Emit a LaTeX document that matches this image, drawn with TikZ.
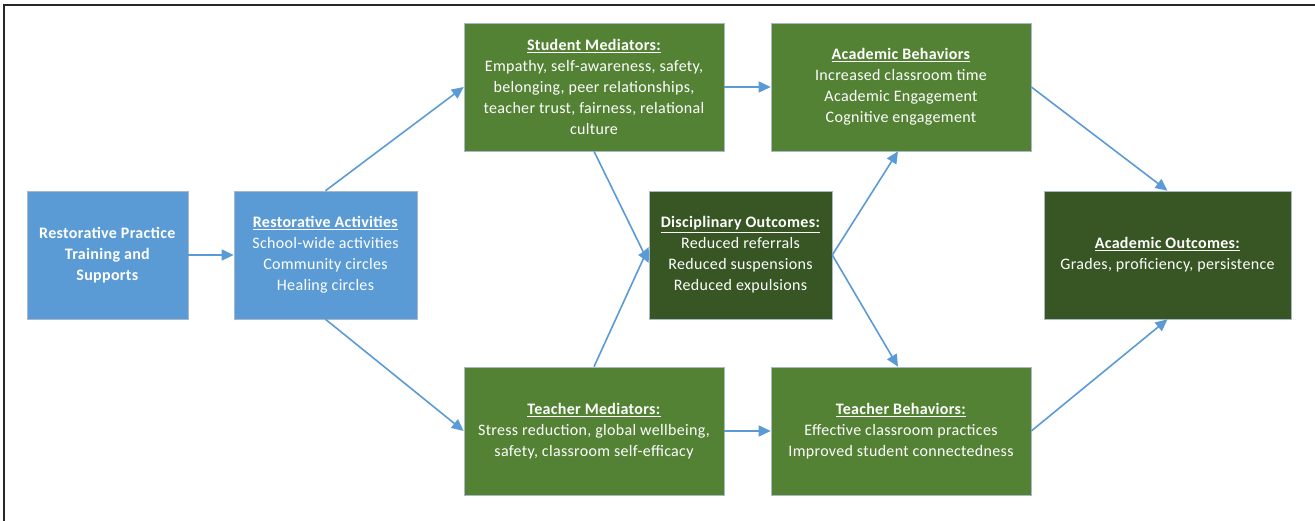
\documentclass[tikz,border=0pt]{standalone}
\usepackage{fontspec}
\setmainfont{Carlito}[LetterSpace=2]
\usetikzlibrary{arrows.meta}
\definecolor{rpblue}{HTML}{5B9BD5}
\definecolor{rpgreen}{HTML}{548235}
\definecolor{rpdark}{HTML}{375623}
\definecolor{rpedge}{HTML}{A9B8C6}

\begin{document}
\begin{tikzpicture}[x=1pt,y=-1pt,
	box/.style={draw=rpedge, line width=0.6pt, text=white, align=center, inner sep=0pt,
		font=\fontsize{16}{21}\selectfont},
	link/.style={draw=rpblue, line width=1.6pt, -{Triangle[length=12pt,width=11pt]}}]

	\useasboundingbox (0,0) rectangle (1315,521);

	% frame
	\draw[line width=2pt, black!85] (4,521) -- (4,5) -- (1315,5);

	% draw activity boxes
	\node[box, fill=rpblue, minimum width=161pt, minimum height=128pt] (train) at (107.5,255)
		{\textbf{Restorative Practice}\\\textbf{Training and}\\\textbf{Supports}};
	\node[box, fill=rpblue, minimum width=183pt, minimum height=128pt] (act) at (325.5,255)
		{\underline{\textbf{Restorative Activities}}\\School-wide activities\\Community circles\\Healing circles};

	% draw mediators
	\node[box, fill=rpgreen, minimum width=260pt, minimum height=128pt] (stud) at (594,87)
		{\underline{\textbf{Student Mediators:}}\\Empathy, self-awareness, safety,\\belonging, peer relationships,\\teacher trust, fairness, relational\\culture};
	\node[box, fill=rpgreen, minimum width=260pt, minimum height=128pt] (teach) at (594,431)
		{\underline{\textbf{Teacher Mediators:}}\\Stress reduction, global wellbeing,\\safety, classroom self-efficacy};

	% draw outcomes and behaviors
	\node[box, fill=rpdark, minimum width=183pt, minimum height=128pt] (disc) at (740.5,255)
		{\underline{\textbf{Disciplinary Outcomes:}}\\Reduced referrals\\Reduced suspensions\\Reduced expulsions};
	\node[box, fill=rpgreen, minimum width=260pt, minimum height=128pt] (acbeh) at (901,87)
		{\underline{\textbf{Academic Behaviors}}\\Increased classroom time\\Academic Engagement\\Cognitive engagement};
	\node[box, fill=rpgreen, minimum width=260pt, minimum height=128pt] (tbeh) at (901,431)
		{\underline{\textbf{Teacher Behaviors:}}\\Effective classroom practices\\Improved student connectedness};
	\node[box, fill=rpdark, minimum width=247pt, minimum height=128pt] (acout) at (1167.5,255)
		{\underline{\textbf{Academic Outcomes:}}\\Grades, proficiency, persistence};

	% draw edges
	\path[link] (train) -- (act);
	\path[link] (act.north) -- (stud.west);
	\path[link] (act.south) -- (teach.west);
	\path[link] (stud) -- (acbeh);
	\path[link] (teach) -- (tbeh);
	\path[link] (stud.south) -- ([yshift=-8pt]disc.west);
	\path[link] (teach.north) -- ([yshift=8pt]disc.west);
	\path[link] (disc.east) -- ([xshift=-3pt]acbeh.south);
	\path[link] (disc.east) -- ([xshift=-3pt]tbeh.north);
	\path[link] (acbeh.east) -- (acout.north);
	\path[link] (tbeh.east) -- (acout.south);

\end{tikzpicture}
\end{document}
